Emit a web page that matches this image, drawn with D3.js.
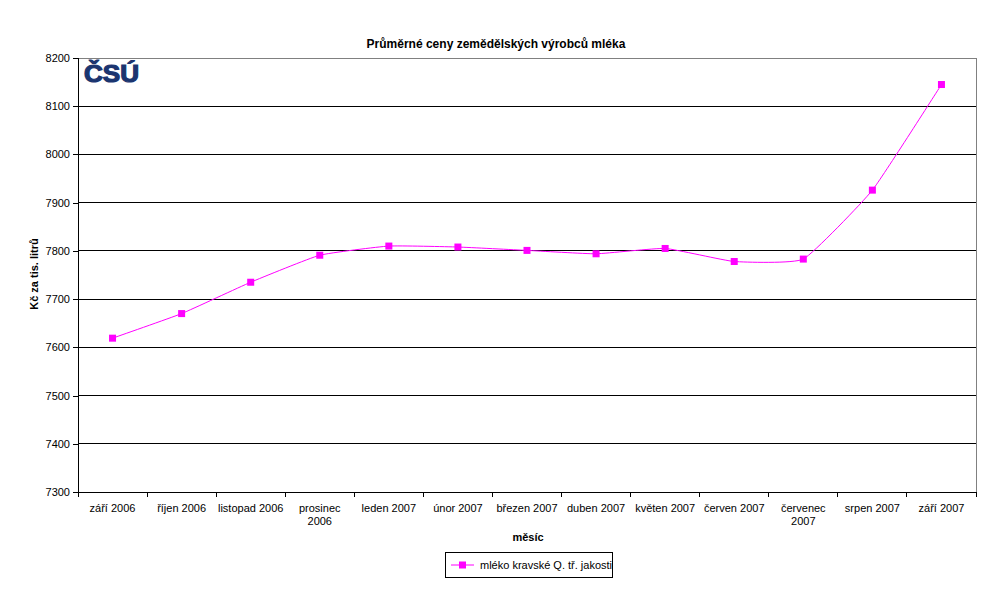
<!DOCTYPE html>
<html><head><meta charset="utf-8">
<script src="https://cdn.jsdelivr.net/npm/d3@7"></script>
<style>body{margin:0;background:#fff}svg{display:block}text{font-family:"Liberation Sans",Arial,sans-serif}</style>
</head><body>
<svg id="c" width="987" height="597"></svg>
<script>
const categories = [["září 2006"],["říjen 2006"],["listopad 2006"],["prosinec","2006"],["leden 2007"],["únor 2007"],["březen 2007"],["duben 2007"],["květen 2007"],["červen 2007"],["červenec","2007"],["srpen 2007"],["září 2007"]];
const values = [7619, 7670, 7735, 7791, 7810, 7808, 7801, 7794, 7805, 7778, 7783, 7926, 8145];
const yTicks = [7300, 7400, 7500, 7600, 7700, 7800, 7900, 8000, 8100, 8200];
const seriesName = "mléko kravské Q. tř. jakosti";
const title = "Průměrné ceny zemědělských výrobců mléka";
const yTitle = "Kč za tis. litrů";
const xTitle = "měsíc";

const svg = d3.select("#c");
const L = 78, R = 976, T = 58, B = 492;
const x = d3.scaleBand().domain(d3.range(categories.length)).range([L, R]);
const y = d3.scaleLinear().domain([7300, 8200]).range([B, T]);

// gridlines
svg.append("g").selectAll("line").data(yTicks.slice(1, -1)).join("line")
  .attr("x1", L).attr("x2", R).attr("y1", d => y(d)).attr("y2", d => y(d))
  .attr("stroke", "#000").attr("stroke-width", 1).attr("shape-rendering", "crispEdges");
// plot border (grey)
svg.append("rect").attr("x", L).attr("y", T).attr("width", R - L).attr("height", B - T)
  .attr("fill", "none").attr("stroke", "#808080").attr("shape-rendering", "crispEdges");

// y axis
const ya = svg.append("g").attr("transform", `translate(${L},0)`)
  .call(d3.axisLeft(y).tickValues(yTicks).tickFormat(d3.format("d")).tickSize(5).tickPadding(3));
ya.select(".domain").attr("stroke", "#000").attr("shape-rendering", "crispEdges");
ya.selectAll(".tick line").attr("stroke", "#000").attr("shape-rendering", "crispEdges");
ya.selectAll("text").attr("font-size", 11).attr("fill", "#000").attr("font-family", "Liberation Sans, Arial");

// x axis
const xa = svg.append("g").attr("transform", `translate(0,${B})`)
  .call(d3.axisBottom(x).tickSize(0).tickFormat(""));
xa.select(".domain").attr("stroke", "#000").attr("shape-rendering", "crispEdges");
const bounds = d3.range(categories.length + 1).map(i => L + i * x.bandwidth());
xa.selectAll("line.b").data(bounds).join("line").attr("class", "b")
  .attr("x1", d => d).attr("x2", d => d).attr("y1", 0).attr("y2", 5)
  .attr("stroke", "#000").attr("shape-rendering", "crispEdges");
const lbl = svg.append("g").selectAll("text").data(categories).join("text")
  .attr("x", (d, i) => x(i) + x.bandwidth() / 2).attr("y", B + 20)
  .attr("text-anchor", "middle").attr("font-size", 11).attr("fill", "#000");
lbl.each(function(d) {
  const t = d3.select(this);
  d.forEach((s, j) => t.append("tspan").attr("x", t.attr("x")).attr("dy", j ? 13 : 0).text(s));
});

// line
const line = d3.line().x((d, i) => x(i) + x.bandwidth() / 2).y(d => y(d)).curve(d3.curveCardinal.tension(0.6));
svg.append("path").datum(values).attr("d", line).attr("fill", "none")
  .attr("stroke", "#ff00ff").attr("stroke-width", 1);
svg.append("g").selectAll("rect").data(values).join("rect")
  .attr("x", (d, i) => x(i) + x.bandwidth() / 2 - 3.5).attr("y", d => y(d) - 3.5)
  .attr("width", 7).attr("height", 7).attr("fill", "#ff00ff");

// titles
svg.append("text").attr("x", 496).attr("y", 48).attr("text-anchor", "middle")
  .attr("font-size", 12).attr("font-weight", "bold").text(title);
svg.append("text").attr("transform", "translate(38,274) rotate(-90)").attr("text-anchor", "middle")
  .attr("font-size", 11).attr("font-weight", "bold").text(yTitle);
svg.append("text").attr("x", 528).attr("y", 541).attr("text-anchor", "middle")
  .attr("font-size", 11).attr("font-weight", "bold").text(xTitle);

// logo
svg.append("text").attr("x", 84).attr("y", 82).attr("font-family", "DejaVu Sans")
  .attr("font-size", 23).attr("font-weight", "bold").attr("fill", "#1b3570")
  .attr("stroke", "#1b3570").attr("stroke-width", 1.2)
  .attr("textLength", 55).attr("lengthAdjust", "spacingAndGlyphs").text("ČSÚ");

// legend
svg.append("rect").attr("x", 445.5).attr("y", 552.5).attr("width", 167).attr("height", 25)
  .attr("fill", "#fff").attr("stroke", "#000");
svg.append("line").attr("x1", 451).attr("x2", 474).attr("y1", 565).attr("y2", 565).attr("stroke", "#ff00ff");
svg.append("rect").attr("x", 459).attr("y", 561.5).attr("width", 7).attr("height", 7).attr("fill", "#ff00ff");
svg.append("text").attr("x", 480).attr("y", 569).attr("font-size", 11).text(seriesName);
</script>
</body></html>
